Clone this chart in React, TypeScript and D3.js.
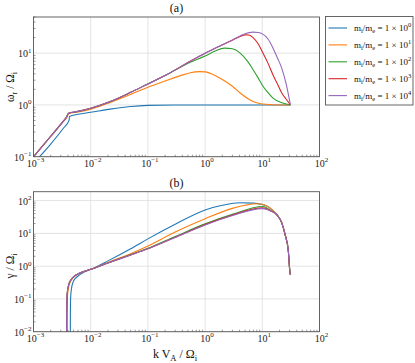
import React, { useEffect, useRef } from "react";
import * as d3 from "d3";

// mass ratios (exponent of 10) and matplotlib tab10 colours
const massExponents = ["0", "1", "2", "3", "4"];
const colors = ["#1f77b4", "#ff7f0e", "#2ca02c", "#d62728", "#9467bd"];

// (a) real frequency  omega_r / Omega_i
const kA0 = [0.001, 0.00195, 0.0033, 0.0042, 0.00425, 0.006, 0.01, 0.022, 0.05, 0.1, 0.3, 1, 3, 10, 31];
const wA0 = [0.075, 0.17, 0.35, 0.51, 0.6, 0.66, 0.72, 0.83, 0.93, 0.98, 1.0, 1.0, 1.0, 1.0, 1.0];
const kA1 = [0.001, 0.00195, 0.0033, 0.0039, 0.0041, 0.006, 0.01, 0.022, 0.05, 0.1, 0.2, 0.35, 0.55, 0.8, 1, 1.5, 2.1, 3, 4.1, 6.9, 10, 15, 22, 31];
const wA1 = [0.1, 0.24, 0.48, 0.59, 0.68, 0.73, 0.83, 1.12, 1.6, 2.2, 2.9, 3.6, 4.2, 4.4, 4.35, 3.7, 3.0, 2.3, 1.7, 1.16, 1.04, 1.01, 1.0, 1.0];
const kA2 = [0.001, 0.00195, 0.0033, 0.0038, 0.0041, 0.006, 0.01, 0.022, 0.05, 0.1, 0.2, 0.55, 1, 1.5, 2.2, 3, 4.1, 5.5, 6.9, 8.5, 10, 12.5, 15.4, 21.9, 31];
const wA2 = [0.1, 0.24, 0.48, 0.59, 0.69, 0.75, 0.86, 1.16, 1.75, 2.55, 3.7, 6.7, 8.8, 11, 12.5, 12.2, 10, 7, 4.8, 3.3, 2.4, 1.75, 1.35, 1.1, 1.0];
const kA3 = [0.001, 0.00195, 0.0033, 0.0038, 0.0041, 0.006, 0.01, 0.022, 0.05, 0.1, 0.2, 0.55, 1, 1.5, 2.1, 3, 4.1, 5, 5.8, 6.9, 8.5, 10, 12.5, 15.4, 18.5, 21.9, 26, 31];
const wA3 = [0.1, 0.24, 0.48, 0.59, 0.69, 0.75, 0.86, 1.16, 1.75, 2.55, 3.7, 7.0, 10, 12.5, 14.8, 17.8, 21, 22.6, 22.4, 20, 15, 10.7, 6.5, 3.8, 2.5, 1.7, 1.3, 1.0];
const kA4 = [0.001, 0.00195, 0.0033, 0.0038, 0.0041, 0.006, 0.01, 0.022, 0.05, 0.1, 0.2, 0.55, 1, 1.5, 2.1, 3, 4.1, 5, 6.9, 8.5, 10, 12.5, 15.4, 18.5, 21.9, 26, 31];
const wA4 = [0.1, 0.24, 0.48, 0.59, 0.69, 0.75, 0.86, 1.16, 1.75, 2.55, 3.7, 7.0, 10, 12.5, 14.8, 18, 21.5, 23.8, 25.5, 25.0, 23.6, 19, 12.5, 8, 5.1, 2.6, 1.0];

// (b) growth rate  gamma / Omega_i
const kB0 = [0.0044, 0.00441, 0.00445, 0.0046, 0.005, 0.006, 0.0075, 0.01, 0.02, 0.05, 0.1, 0.3, 1, 2, 4, 7, 10, 12, 14, 17.7, 21.9, 25, 28.5, 30.5, 31];
const gB0 = [0.001, 0.03, 0.1, 0.2, 0.35, 0.5, 0.65, 0.8, 1.45, 3.4, 6.8, 19, 52, 72, 86, 84, 76, 68, 57, 38, 21, 9.3, 2.9, 0.63, 0.55];
const kB1 = [0.00385, 0.00386, 0.0039, 0.004, 0.0043, 0.005, 0.0065, 0.01, 0.02, 0.05, 0.1, 0.3, 1, 3, 5, 8, 10, 12, 14, 17.7, 21.9, 25, 28.5, 30.5, 31];
const gB1 = [0.001, 0.03, 0.1, 0.17, 0.3, 0.45, 0.62, 0.8, 1.3, 2.4, 4.1, 11, 28, 58, 72, 80, 77, 68, 58, 38, 21, 9.3, 2.9, 0.63, 0.55];
const kB2 = [0.0038, 0.00381, 0.00385, 0.0039, 0.0042, 0.005, 0.0065, 0.01, 0.02, 0.05, 0.1, 0.3, 1, 3, 10, 12, 14, 17.7, 21.9, 25, 28.5, 30.5, 31];
const gB2 = [0.001, 0.03, 0.1, 0.16, 0.3, 0.47, 0.62, 0.8, 1.25, 2.25, 3.5, 8, 19.5, 38, 66, 60, 50, 38, 21, 9.3, 2.9, 0.63, 0.55];
const kB3 = [0.0038, 0.00381, 0.00385, 0.0039, 0.0042, 0.005, 0.0065, 0.01, 0.02, 0.05, 0.1, 0.3, 1, 3, 10, 12, 14, 17.7, 21.9, 25, 28.5, 30.5, 31];
const gB3 = [0.001, 0.03, 0.1, 0.16, 0.3, 0.47, 0.62, 0.8, 1.25, 2.2, 3.4, 7.6, 18.5, 36, 60, 56, 49, 38, 21, 9.3, 2.9, 0.63, 0.55];
const kB4 = [0.0038, 0.00381, 0.00385, 0.0039, 0.0042, 0.005, 0.0065, 0.01, 0.02, 0.05, 0.1, 0.3, 1, 3, 10, 12, 14, 17.7, 21.9, 25, 28.5, 30.5, 31];
const gB4 = [0.001, 0.03, 0.1, 0.16, 0.3, 0.47, 0.62, 0.8, 1.25, 2.2, 3.4, 7.5, 18, 35, 57, 54, 48, 38, 21, 9.3, 2.9, 0.63, 0.55];

const kA = [kA0, kA1, kA2, kA3, kA4];
const wA = [wA0, wA1, wA2, wA3, wA4];
const kB = [kB0, kB1, kB2, kB3, kB4];
const gB = [gB0, gB1, gB2, gB3, gB4];

const xTicks = [-3, -2, -1, 0, 1, 2];
const yTicksA = [-1, 0, 1];
const yTicksB = [-2, -1, 0, 1, 2];

const W = 415;
const H = 363;
const FONT = "'Liberation Serif', 'DejaVu Serif', serif";
const SPINE = "#555";
const GRID = "#dcdcdc";

const App = () => {
  const ref = useRef<SVGSVGElement | null>(null);

  useEffect(() => {
    const svg = d3.select(ref.current);
    svg.selectAll("*").remove();

    const x = d3.scaleLog().domain([1e-3, 1e2]).range([33.5, 319.5]);

    const drawPanel = (
      id: string,
      top: number,
      bottom: number,
      yDomain: [number, number],
      yTicks: number[],
      ks: number[][],
      vs: number[][],
      title: string
    ) => {
      const y = d3.scaleLog().domain(yDomain).range([bottom, top]);
      const g = svg.append("g");
      const [x0, x1] = x.range();

      g.append("clipPath")
        .attr("id", id)
        .append("rect")
        .attr("x", x0)
        .attr("y", top)
        .attr("width", x1 - x0)
        .attr("height", bottom - top);

      // grid
      xTicks.forEach(e => {
        g.append("line")
          .attr("x1", x(Math.pow(10, e)))
          .attr("x2", x(Math.pow(10, e)))
          .attr("y1", top)
          .attr("y2", bottom)
          .attr("stroke", GRID)
          .attr("stroke-width", 0.8);
      });
      yTicks.forEach(e => {
        g.append("line")
          .attr("x1", x0)
          .attr("x2", x1)
          .attr("y1", y(Math.pow(10, e)))
          .attr("y2", y(Math.pow(10, e)))
          .attr("stroke", GRID)
          .attr("stroke-width", 0.8);
      });

      // curves
      const line = d3
        .line<[number, number]>()
        .x(d => x(d[0]))
        .y(d => y(d[1]))
        .curve(d3.curveMonotoneX);
      const lines = g.append("g").attr("clip-path", `url(#${id})`);
      ks.forEach((kk, i) => {
        const pts = kk.map((k, j) => [k, vs[i][j]] as [number, number]);
        lines
          .append("path")
          .attr("d", line(pts))
          .attr("fill", "none")
          .attr("stroke", colors[i])
          .attr("stroke-width", 1.1);
      });

      // minor ticks (inside)
      for (let e = -3; e < 2; e++) {
        for (let m = 2; m < 10; m++) {
          const xv = x(m * Math.pow(10, e));
          g.append("line")
            .attr("x1", xv)
            .attr("x2", xv)
            .attr("y1", bottom)
            .attr("y2", bottom - 2)
            .attr("stroke", SPINE)
            .attr("stroke-width", 0.6);
        }
      }
      const lo = Math.floor(Math.log10(yDomain[0]));
      const hi = Math.ceil(Math.log10(yDomain[1]));
      for (let e = lo; e < hi; e++) {
        for (let m = 2; m < 10; m++) {
          const v = m * Math.pow(10, e);
          if (v < yDomain[0] || v > yDomain[1]) continue;
          g.append("line")
            .attr("x1", x0)
            .attr("x2", x0 + 2)
            .attr("y1", y(v))
            .attr("y2", y(v))
            .attr("stroke", SPINE)
            .attr("stroke-width", 0.6);
        }
      }

      // frame
      g.append("rect")
        .attr("x", x0)
        .attr("y", top)
        .attr("width", x1 - x0)
        .attr("height", bottom - top)
        .attr("fill", "none")
        .attr("stroke", SPINE)
        .attr("stroke-width", 0.9);

      // tick labels
      const pow = (sel: any, e: number) => {
        sel.append("tspan").text("10");
        sel
          .append("tspan")
          .attr("dy", -4.5)
          .attr("font-size", 7)
          .text(e < 0 ? "\u2212" + Math.abs(e) : String(e));
      };
      xTicks.forEach(e => {
        const t = g
          .append("text")
          .attr("x", x(Math.pow(10, e)) + 2)
          .attr("y", bottom + 10)
          .attr("text-anchor", "middle")
          .attr("font-family", FONT)
          .attr("font-size", 10)
          .attr("fill", "#222");
        pow(t, e);
      });
      yTicks.forEach(e => {
        const t = g
          .append("text")
          .attr("x", x0 - 2)
          .attr("y", y(Math.pow(10, e)) + 4)
          .attr("text-anchor", "end")
          .attr("font-family", FONT)
          .attr("font-size", 10)
          .attr("fill", "#222");
        pow(t, e);
      });

      g.append("text")
        .attr("x", (x0 + x1) / 2)
        .attr("y", top - 5)
        .attr("text-anchor", "middle")
        .attr("font-family", FONT)
        .attr("font-size", 12)
        .attr("fill", "#111")
        .text(title);

      return g;
    };

    const gA = drawPanel("clipA", 17, 156.7, [0.1, 50], yTicksA, kA, wA, "(a)");
    const gB2 = drawPanel("clipB", 191.7, 331.7, [0.01, 187], yTicksB, kB, gB, "(b)");

    // y labels
    const yLabel = (g: any, cy: number, main: string) => {
      const t = g
        .append("text")
        .attr("transform", `translate(14,${cy}) rotate(-90)`)
        .attr("text-anchor", "middle")
        .attr("font-family", FONT)
        .attr("font-size", 11.5)
        .attr("fill", "#111");
      t.append("tspan").text(main);
      t.append("tspan").attr("font-size", 8).attr("dy", 3).text(main === "\u03c9" ? "r" : "");
      t.append("tspan").attr("dy", main === "\u03c9" ? -3 : 0).text(" / \u03a9");
      t.append("tspan").attr("font-size", 8).attr("dy", 3).text("i");
    };
    yLabel(gA, 87, "\u03c9");
    yLabel(gB2, 266, "\u03b3");

    // x label
    const xl = svg
      .append("text")
      .attr("x", 175)
      .attr("y", 358)
      .attr("text-anchor", "middle")
      .attr("font-family", FONT)
      .attr("font-size", 12)
      .attr("fill", "#111");
    xl.append("tspan").text("k V");
    xl.append("tspan").attr("font-size", 8.5).attr("dy", 3).text("A");
    xl.append("tspan").attr("dy", -3).text(" / \u03a9");
    xl.append("tspan").attr("font-size", 8.5).attr("dy", 3).text("i");

    // legend
    const lg = svg.append("g");
    lg.append("rect")
      .attr("x", 325.5)
      .attr("y", 16.5)
      .attr("width", 87.5)
      .attr("height", 88.5)
      .attr("fill", "#fff")
      .attr("stroke", SPINE)
      .attr("stroke-width", 0.9);
    massExponents.forEach((e, i) => {
      const cy = 28 + i * 16.9;
      lg.append("line")
        .attr("x1", 328.5)
        .attr("x2", 347)
        .attr("y1", cy)
        .attr("y2", cy)
        .attr("stroke", colors[i])
        .attr("stroke-width", 1.1);
      const t = lg
        .append("text")
        .attr("x", 354)
        .attr("y", cy + 3)
        .attr("font-family", FONT)
        .attr("font-size", 9)
        .attr("fill", "#111");
      t.append("tspan").text("m");
      t.append("tspan").attr("font-size", 6.5).attr("dy", 2).text("i");
      t.append("tspan").attr("dy", -2).text("/m");
      t.append("tspan").attr("font-size", 6.5).attr("dy", 2).text("e");
      t.append("tspan").attr("dy", -2).text(" = 1 \u00d7 10");
      t.append("tspan").attr("font-size", 6.5).attr("dy", -4).text(e);
    });
  }, []);

  return <svg ref={ref} width={W} height={H} style={{ position: "absolute", left: 0, top: 0 }} />;
};

export default App;
